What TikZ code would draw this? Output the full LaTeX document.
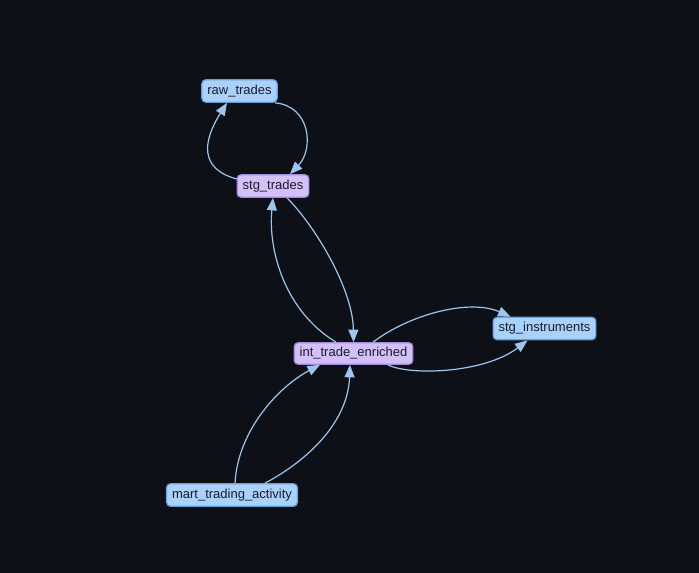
\documentclass[tikz,border=0pt]{standalone}
\usepackage{fontspec}
\setmainfont{Liberation Sans}
\usetikzlibrary{arrows.meta,calc}
\definecolor{bg}{HTML}{0D1117}
\definecolor{bluefill}{HTML}{A8D1FB}
\definecolor{blueline}{HTML}{6A9FD4}
\definecolor{purpfill}{HTML}{D4C0F8}
\definecolor{purpline}{HTML}{A38BD8}
\definecolor{edgecol}{HTML}{9EC5EE}
\definecolor{txt}{HTML}{1B1B2A}
\begin{document}
\begin{tikzpicture}[x=1pt,y=-1pt,
  base/.style={rounded corners=4pt, line width=1.2pt, minimum height=22.5pt,
    inner xsep=5.5pt, inner ysep=0pt, text=txt, font=\fontsize{13}{15}\selectfont},
  bluebox/.style={base, fill=bluefill, draw=blueline},
  purpbox/.style={base, fill=purpfill, draw=purpline},
  link/.style={draw=edgecol, line width=1.2pt, -{Triangle[length=12.5pt,width=10pt]}}]
\fill[bg] (0,0) rectangle (699,573);
\useasboundingbox (0,0) rectangle (699,573);

\node[bluebox] (raw) at (239.5,91) {raw\_trades};
\node[purpbox] (stg) at (273,186) {stg\_trades};
\node[purpbox, minimum height=21.5pt] (int) at (353.5,353.5) {int\_trade\_enriched};
\node[bluebox] (inst) at (544.5,328.5) {stg\_instruments};
\node[bluebox] (mart) at (232,495) {mart\_trading\_activity};

% stg -> raw
\draw[link] ($(stg.north west)+(1,5)$) .. controls +(-39,-10) and +(-24,38) .. ($(raw.south)+(-12.5,0)$);
% raw -> stg
\draw[link] ($(raw.south east)+(-3,0)$) .. controls +(36,3) and +(24,-25) .. ($(stg.north)+(17,0)$);
% int -> stg
\draw[link] ($(int.north)+(-17.5,0)$) .. controls +(-51,-31) and +(-5,53) .. (stg.south);
% stg -> int
\draw[link] ($(stg.south)+(14,0)$) .. controls +(28,28) and +(-0.5,-53) .. (int.north);
% int -> inst (top)
\draw[link] ($(int.north)+(19.5,0)$) .. controls +(37,-28) and +(-41,-18) .. ($(inst.north west)+(18,0)$);
% int -> inst (bottom)
\draw[link] ($(int.south)+(34.5,0)$) .. controls +(22,11) and +(-43,33) .. ($(inst.south west)+(35,0)$);
% mart -> int (left)
\draw[link] ($(mart.north)+(3,0)$) .. controls +(3,-54) and +(-40,21) .. ($(int.south)+(-33.5,0)$);
% mart -> int (right)
\draw[link] ($(mart.north)+(33,0)$) .. controls +(45,-24) and +(-2,56) .. ($(int.south)+(-3.5,0)$);
\end{tikzpicture}
\end{document}
